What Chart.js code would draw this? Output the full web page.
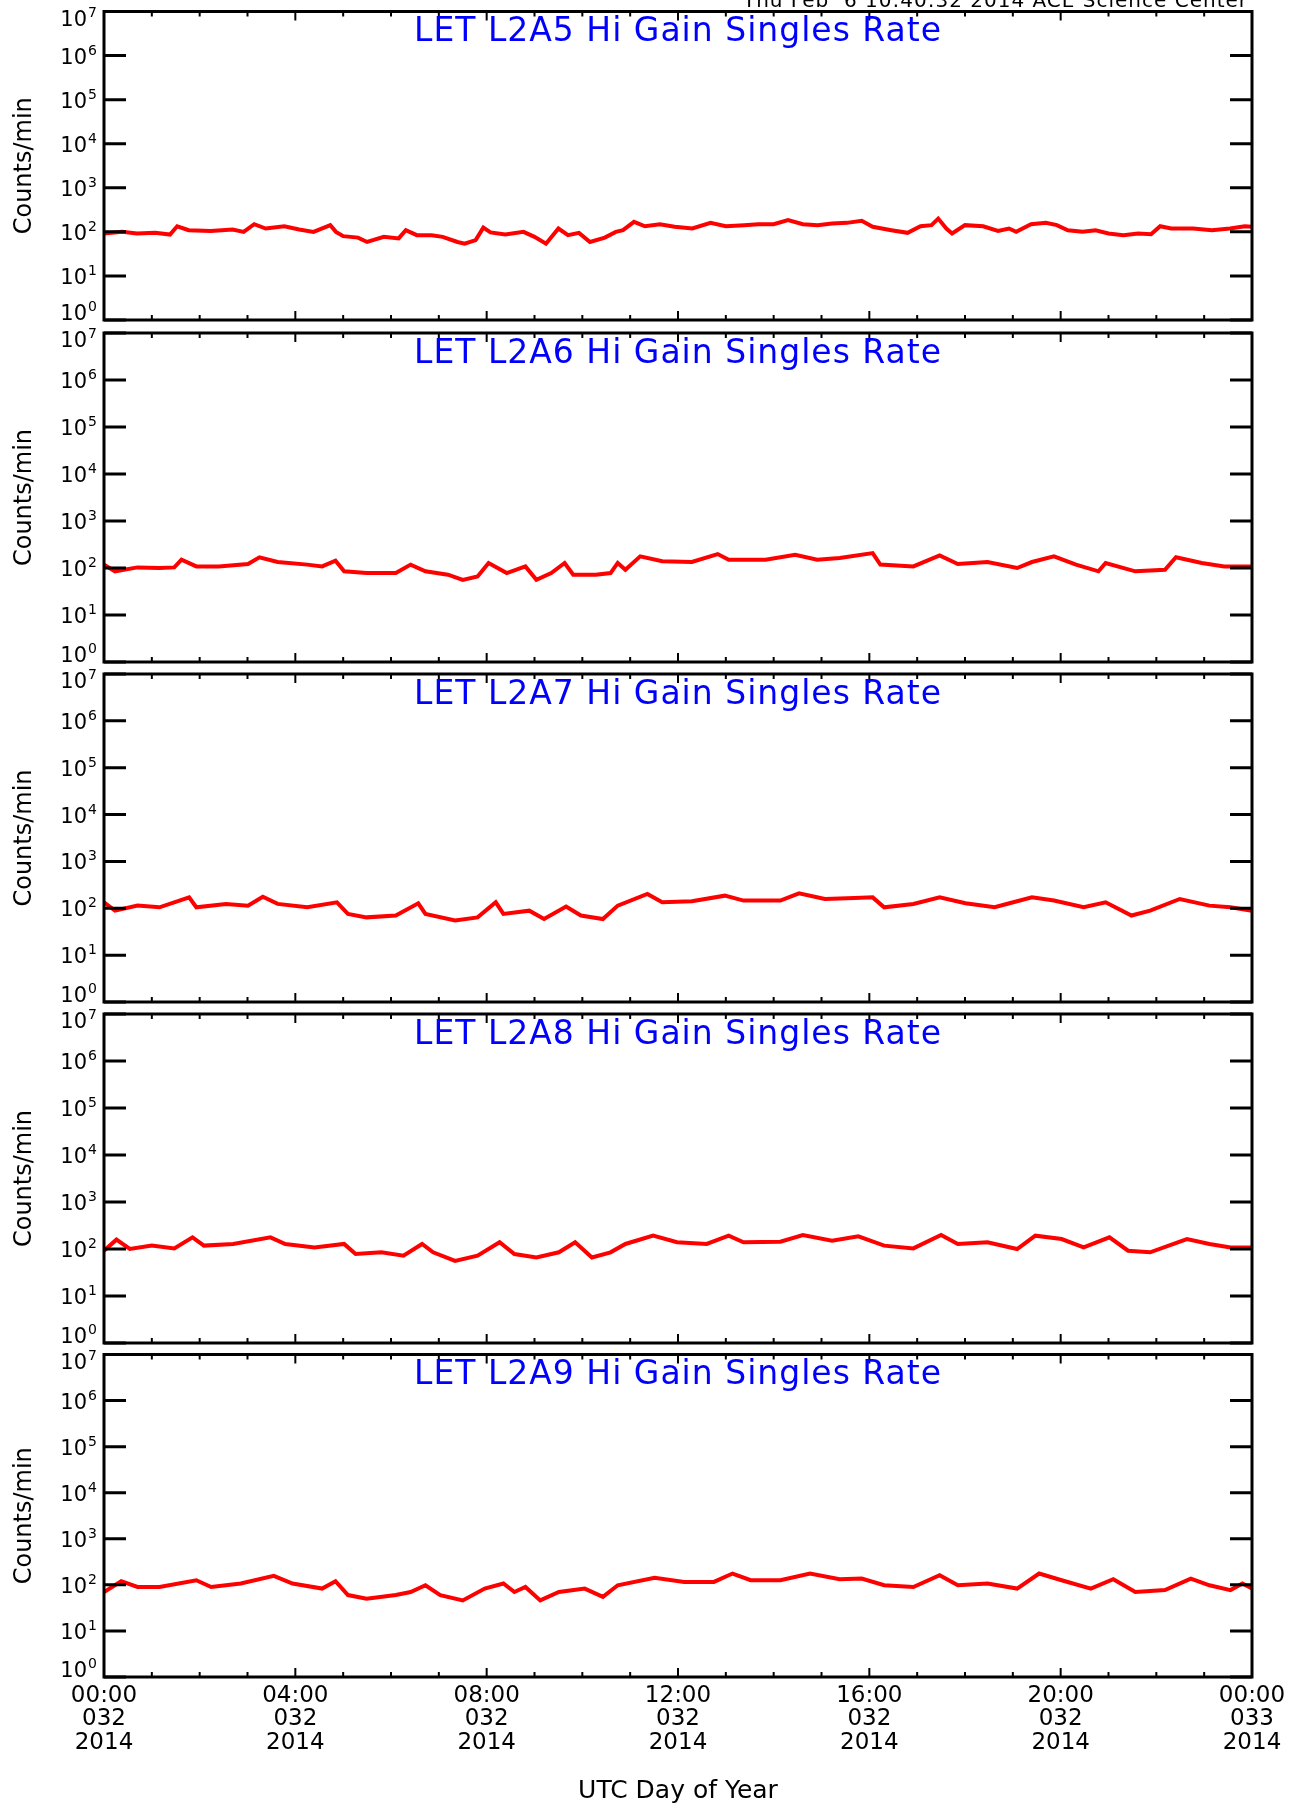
<!DOCTYPE html>
<html>
<head>
<meta charset="utf-8">
<script src="https://cdn.jsdelivr.net/npm/chart.js@4.4.0/dist/chart.umd.min.js"></script>
<style>
  html, body { margin: 0; padding: 0; background: #fff; }
  body { width: 1301px; height: 1806px; position: relative; overflow: hidden; }
  canvas { position: absolute; left: 0; }
</style>
</head>
<body>
<script>
// LET Hi Gain singles rates, counts/min (hours of day 032)
const hoursA5 = [0,0.38,0.69,1.07,1.38,1.53,1.77,2.23,2.69,2.92,3.14,3.38,3.77,4.08,4.38,4.73,4.85,5.0,5.31,5.5,5.85,6.16,6.31,6.54,6.85,7.08,7.39,7.54,7.77,7.93,8.08,8.39,8.77,9.0,9.24,9.5,9.7,9.93,10.16,10.47,10.7,10.85,11.08,11.31,11.62,11.93,12.3,12.68,13.0,13.38,13.68,14.0,14.3,14.61,14.92,15.22,15.53,15.84,16.07,16.46,16.8,17.07,17.3,17.44,17.61,17.73,18.0,18.38,18.69,18.92,19.07,19.38,19.69,19.92,20.15,20.46,20.73,21.0,21.31,21.62,21.89,22.08,22.31,22.77,23.16,23.54,23.85,24];
const countsA5 = [92,100,92,95,87,134,109,104,113,100,149,119,134,113,100,142,100,80,74,59,77,71,109,84,84,77,59,54,65,125,97,87,100,77,54,119,84,95,59,74,100,109,169,134,149,130,119,160,134,142,149,149,184,149,142,155,160,178,130,109,95,134,142,200,119,92,142,134,105,119,100,149,160,142,109,100,109,92,84,92,88,134,119,119,109,119,134,130];

const hoursA6 = [0,0.23,0.7,1.16,1.47,1.62,1.93,2.4,3.01,3.25,3.63,4.25,4.56,4.84,5.02,5.49,6.1,6.41,6.72,7.19,7.5,7.81,8.04,8.42,8.81,9.04,9.35,9.63,9.81,10.28,10.59,10.74,10.9,11.21,11.67,12.29,12.83,13.06,13.83,14.45,14.91,15.38,16.07,16.23,16.92,17.47,17.85,18.47,19.09,19.4,19.86,20.32,20.79,20.94,21.56,22.18,22.41,22.95,23.42,24];
const countsA6 = [118,85,103,100,103,150,108,108,122,169,134,118,108,143,85,78,78,118,85,72,56,66,128,78,108,56,78,128,72,72,78,128,92,177,139,134,198,150,150,192,150,163,208,118,108,186,122,134,100,134,177,118,85,128,85,92,169,128,108,108];

const hoursA7 = [0,0.23,0.7,1.16,1.78,1.93,2.55,3.01,3.32,3.63,4.25,4.87,5.1,5.49,6.1,6.57,6.72,7.34,7.81,8.19,8.35,8.89,9.2,9.66,9.97,10.43,10.74,11.36,11.67,12.29,12.98,13.37,14.14,14.53,15.07,15.69,16.07,16.31,16.92,17.47,18.01,18.62,18.93,19.4,19.86,20.48,20.94,21.48,21.87,22.49,23.11,23.55,24];
const countsA7 = [134,89,114,105,171,105,124,114,177,124,105,134,76,64,70,128,76,55,64,134,76,89,59,109,70,59,114,202,134,141,186,146,146,208,158,166,171,105,124,171,128,105,128,171,146,105,134,70,89,158,114,105,89];

const hoursA8 = [0,0.26,0.54,1.0,1.47,1.85,2.09,2.7,3.48,3.79,4.4,5.02,5.26,5.8,6.26,6.65,6.88,7.34,7.81,8.27,8.58,9.04,9.51,9.85,10.2,10.59,10.9,11.48,11.98,12.6,13.06,13.37,14.14,14.61,15.22,15.77,16.31,16.92,17.5,17.85,18.47,19.09,19.47,20.02,20.48,21.02,21.41,21.87,22.64,23.11,23.55,24];
const countsA8 = [92,158,100,118,103,177,118,128,177,128,108,128,78,85,72,128,85,56,72,139,78,66,85,139,66,85,128,192,139,128,192,139,143,198,150,186,118,103,198,128,139,100,192,163,108,177,92,85,163,128,108,108];

const hoursA9 = [0,0.36,0.7,1.16,1.93,2.24,2.86,3.55,3.94,4.56,4.84,5.1,5.49,6.1,6.41,6.72,7.03,7.5,7.96,8.35,8.58,8.81,9.12,9.51,10.05,10.43,10.74,11.51,12.13,12.75,13.14,13.52,14.14,14.76,15.38,15.84,16.31,16.92,17.47,17.85,18.47,19.09,19.55,20.02,20.63,21.1,21.56,22.18,22.72,23.11,23.55,23.8,24];
const countsA9 = [70,120,90,90,126,90,107,157,107,83,120,60,50,60,70,98,60,46,83,107,70,90,46,70,83,55,98,142,116,116,176,126,126,176,133,137,98,90,162,98,107,83,176,126,83,133,70,77,137,98,77,107,83];

const panelTitles = ['LET L2A5 Hi Gain Singles Rate', 'LET L2A6 Hi Gain Singles Rate', 'LET L2A7 Hi Gain Singles Rate', 'LET L2A8 Hi Gain Singles Rate', 'LET L2A9 Hi Gain Singles Rate'];
const hourSets = [hoursA5, hoursA6, hoursA7, hoursA8, hoursA9];
const countSets = [countsA5, countsA6, countsA7, countsA8, countsA9];

const yTickExps = [0, 1, 2, 3, 4, 5, 6, 7];
const xTickHours = [0, 4, 8, 12, 16, 20, 24];
const xTickTimes = ['00:00', '04:00', '08:00', '12:00', '16:00', '20:00', '00:00'];
const xTickDays = ['032', '032', '032', '032', '032', '032', '033'];
const xTickYears = ['2014', '2014', '2014', '2014', '2014', '2014', '2014'];
const timeStamp = 'Thu Feb  6 10:40:32 2014 ACE Science Center';

// layout (page pixels)
const panelBox = [[11.5, 320], [333, 662], [674, 1002], [1014, 1343], [1354.5, 1677]];
const plotLeft = 104, plotRight = 1252, pageW = 1301, pageH = 1806;
const family = '"DejaVu Sans", sans-serif';

// IDL style frame: box, inward ticks, 10^n labels, title inside the plot
const idlFrame = {
  id: 'idlFrame',
  afterDraw(chart, args, opts) {
    const {ctx, chartArea: a} = chart;
    const x = chart.scales.x, y = chart.scales.y;
    ctx.save();
    ctx.strokeStyle = '#000';
    ctx.fillStyle = '#000';
    ctx.lineWidth = 3;
    yTickExps.forEach(e => {
      const py = y.getPixelForValue(Math.pow(10, e));
      ctx.beginPath();
      ctx.moveTo(a.left, py); ctx.lineTo(a.left + 22, py);
      ctx.moveTo(a.right, py); ctx.lineTo(a.right - 22, py);
      ctx.stroke();
      // IDL nudges the end labels inward
      const base = py + (e === 0 ? 0 : e === 7 ? 14 : 8);
      ctx.textBaseline = 'alphabetic';
      ctx.font = '21px ' + family;
      ctx.textAlign = 'right';
      ctx.fillText('10', a.left - 17, base);
      ctx.font = '14px ' + family;
      ctx.textAlign = 'left';
      ctx.fillText(String(e), a.left - 16, base - 9);
    });
    ctx.lineWidth = 2;
    for (let h = 0; h <= 24; h++) {
      const px = x.getPixelForValue(h);
      const len = h % 4 === 0 ? 9 : 5;
      ctx.beginPath();
      ctx.moveTo(px, a.top); ctx.lineTo(px, a.top + len);
      ctx.moveTo(px, a.bottom); ctx.lineTo(px, a.bottom - len);
      ctx.stroke();
    }
    ctx.lineWidth = 3;
    ctx.strokeRect(a.left, a.top, a.right - a.left, a.bottom - a.top);

    ctx.fillStyle = '#0000ff';
    ctx.font = '33px ' + family;
    ctx.textAlign = 'center';
    ctx.textBaseline = 'alphabetic';
    ctx.letterSpacing = '1px';
    ctx.fillText(opts.title, (a.left + a.right) / 2, a.top + 29.5);

    if (opts.stamp) {
      ctx.fillStyle = '#000';
      ctx.font = '20px ' + family;
      ctx.textAlign = 'right';
      ctx.fillText(opts.stamp, 1248, opts.stampY);
    }
    ctx.letterSpacing = '0px';
    ctx.restore();
  }
};

panelBox.forEach((box, i) => {
  const last = i === panelBox.length - 1;
  const cTop = i === 0 ? -12 : Math.floor(box[0]) - 18;
  const cBottom = last ? pageH : Math.ceil(box[1]) + 18;
  const xHeight = last ? pageH - box[1] : 0;

  const canvas = document.createElement('canvas');
  canvas.width = pageW;
  canvas.height = cBottom - cTop;
  canvas.style.top = cTop + 'px';
  document.body.appendChild(canvas);

  const hours = hourSets[i], counts = countSets[i];

  new Chart(canvas, {
    type: 'line',
    data: {
      datasets: [{
        data: hours.map((h, k) => ({x: h, y: counts[k]})),
        borderColor: '#ff0000',
        borderWidth: 4,
        pointRadius: 0,
        tension: 0,
        fill: false
      }]
    },
    options: {
      responsive: false,
      animation: false,
      devicePixelRatio: 1,
      layout: {
        padding: {left: 0, right: pageW - plotRight, top: box[0] - cTop, bottom: cBottom - box[1] - xHeight}
      },
      plugins: {
        legend: {display: false},
        tooltip: {enabled: false},
        idlFrame: {title: panelTitles[i], stamp: i === 0 ? timeStamp : '', stampY: 7 - cTop}
      },
      scales: {
        x: {
          type: 'linear', min: 0, max: 24,
          grid: {display: false, drawTicks: false, tickLength: 0},
          border: {display: false},
          afterBuildTicks: s => { s.ticks = xTickHours.map(v => ({value: v})); },
          ticks: {
            display: last, autoSkip: false, maxRotation: 0, padding: 7,
            color: '#000', font: {family: family, size: 23, lineHeight: 1.02},
            callback: (v, k) => [xTickTimes[k], xTickDays[k], xTickYears[k]]
          },
          title: {display: last, text: 'UTC Day of Year', color: '#000', font: {family: family, size: 25}, padding: 0},
          afterFit: s => { s.height = xHeight; }
        },
        y: {
          type: 'logarithmic', min: 1, max: 1e7,
          grid: {display: false, drawTicks: false, tickLength: 0},
          border: {display: false},
          afterBuildTicks: s => { s.ticks = yTickExps.map(e => ({value: Math.pow(10, e)})); },
          ticks: {display: false},
          title: {display: true, text: 'Counts/min', color: '#000', font: {family: family, size: 24}, padding: {top: 10, bottom: 0}},
          afterFit: s => { s.width = plotLeft; }
        }
      }
    },
    plugins: [idlFrame]
  });
});
</script>
</body>
</html>
